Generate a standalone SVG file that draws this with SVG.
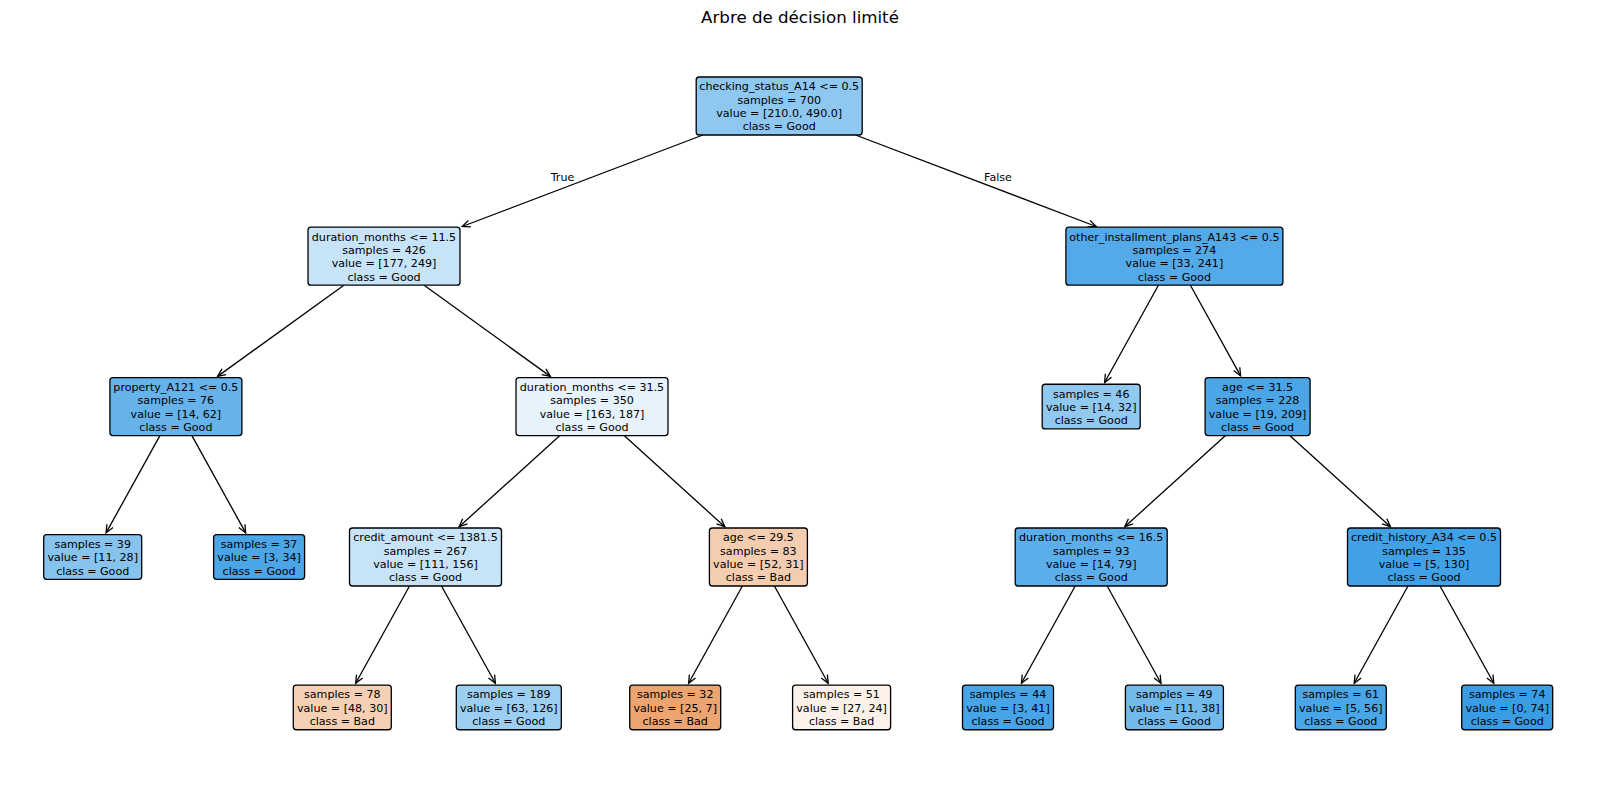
<svg xmlns="http://www.w3.org/2000/svg" width="1600" height="793" viewBox="0 0 1600 793">
<defs>
<marker id="ah" markerUnits="userSpaceOnUse" markerWidth="20" markerHeight="20" viewBox="-10 -10 20 20" refX="0" refY="0" orient="auto" overflow="visible">
<path d="M-8,-3.5 L0,0 L-8,3.5" fill="none" stroke="#000" stroke-width="1.3"/>
</marker>
</defs>
<style>
text{font-family:"DejaVu Sans","Liberation Sans",sans-serif;font-size:11.1px;fill:#000;text-anchor:middle}
.title{font-size:16.67px}
rect{stroke:#000;stroke-width:1.3;rx:3;ry:3}
.e line{stroke:#000;stroke-width:1.3;marker-end:url(#ah)}
</style>
<rect width="1600" height="793" fill="#fff" style="stroke:none"/>
<text class="title" x="800" y="22.5">Arbre de décision limité</text>
<g class="e" id="connectors">
<line x1="702.9" y1="135" x2="462.2" y2="226.5"/>
<line x1="855.5" y1="135" x2="1096.2" y2="226.5"/>
<line x1="343.9" y1="285.2" x2="217.6" y2="376.4"/>
<line x1="424.1" y1="285.2" x2="550.3" y2="376.4"/>
<line x1="1158.4" y1="285.2" x2="1104.6" y2="382.5"/>
<line x1="1190.4" y1="285.2" x2="1240.6" y2="375.9"/>
<line x1="159.9" y1="435.6" x2="106.1" y2="532.9"/>
<line x1="191.9" y1="435.6" x2="245.7" y2="532.9"/>
<line x1="559.9" y1="435.6" x2="459.1" y2="526.7"/>
<line x1="624.1" y1="435.6" x2="724.8" y2="526.7"/>
<line x1="1225.5" y1="435.6" x2="1124.8" y2="526.7"/>
<line x1="1289.7" y1="435.6" x2="1390.4" y2="526.7"/>
<line x1="409.5" y1="586" x2="355.7" y2="683.3"/>
<line x1="441.5" y1="586" x2="495.4" y2="683.3"/>
<line x1="742.4" y1="586" x2="688.6" y2="683.3"/>
<line x1="774.4" y1="586" x2="828.2" y2="683.3"/>
<line x1="1075.2" y1="586" x2="1021.4" y2="683.3"/>
<line x1="1107.2" y1="586" x2="1161" y2="683.3"/>
<line x1="1408" y1="586" x2="1354.2" y2="683.3"/>
<line x1="1440" y1="586" x2="1493.8" y2="683.3"/>
<text x="562.5" y="181">True</text>
<text x="998" y="181">False</text>
</g>
<g id="n0"><rect x="696.2" y="77" width="166" height="58" fill="#8ec7f0"/>
<text x="779.2" y="90.3">checking_status_A14 &lt;= 0.5</text><text x="779.2" y="103.6">samples = 700</text><text x="779.2" y="116.9">value = [210.0, 490.0]</text><text x="779.2" y="130.3">class = Good</text></g>
<g id="n1"><rect x="308" y="227.2" width="152" height="58" fill="#c6e3f7"/>
<text x="384" y="240.5">duration_months &lt;= 11.5</text><text x="384" y="253.8">samples = 426</text><text x="384" y="267.1">value = [177, 249]</text><text x="384" y="280.5">class = Good</text></g>
<g id="n2"><rect x="1065.9" y="227.2" width="217" height="58" fill="#54aae8"/>
<text x="1174.4" y="240.5">other_installment_plans_A143 &lt;= 0.5</text><text x="1174.4" y="253.8">samples = 274</text><text x="1174.4" y="267.1">value = [33, 241]</text><text x="1174.4" y="280.5">class = Good</text></g>
<g id="n3"><rect x="109.9" y="377.6" width="132" height="58" fill="#66b3eb"/>
<text x="175.9" y="390.9">property_A121 &lt;= 0.5</text><text x="175.9" y="404.2">samples = 76</text><text x="175.9" y="417.5">value = [14, 62]</text><text x="175.9" y="430.9">class = Good</text></g>
<g id="n4"><rect x="516" y="377.6" width="152" height="58" fill="#e6f2fc"/>
<text x="592" y="390.9">duration_months &lt;= 31.5</text><text x="592" y="404.2">samples = 350</text><text x="592" y="417.5">value = [163, 187]</text><text x="592" y="430.9">class = Good</text></g>
<g id="n5"><rect x="1042.2" y="384.25" width="98" height="44.7" fill="#90c8f0"/>
<text x="1091.2" y="397.6">samples = 46</text><text x="1091.2" y="410.9">value = [14, 32]</text><text x="1091.2" y="424.2">class = Good</text></g>
<g id="n6"><rect x="1205.1" y="377.6" width="105" height="58" fill="#4ba6e7"/>
<text x="1257.6" y="390.9">age &lt;= 31.5</text><text x="1257.6" y="404.2">samples = 228</text><text x="1257.6" y="417.5">value = [19, 209]</text><text x="1257.6" y="430.9">class = Good</text></g>
<g id="n7"><rect x="43.7" y="534.65" width="98" height="44.7" fill="#87c3ef"/>
<text x="92.7" y="548">samples = 39</text><text x="92.7" y="561.3">value = [11, 28]</text><text x="92.7" y="574.6">class = Good</text></g>
<g id="n8"><rect x="213.6" y="534.65" width="91" height="44.7" fill="#4aa6e7"/>
<text x="259.1" y="548">samples = 37</text><text x="259.1" y="561.3">value = [3, 34]</text><text x="259.1" y="574.6">class = Good</text></g>
<g id="n9"><rect x="349.5" y="528" width="152" height="58" fill="#c6e3f7"/>
<text x="425.5" y="541.3">credit_amount &lt;= 1381.5</text><text x="425.5" y="554.6">samples = 267</text><text x="425.5" y="567.9">value = [111, 156]</text><text x="425.5" y="581.3">class = Good</text></g>
<g id="n10"><rect x="709.4" y="528" width="98" height="58" fill="#f4ccaf"/>
<text x="758.4" y="541.3">age &lt;= 29.5</text><text x="758.4" y="554.6">samples = 83</text><text x="758.4" y="567.9">value = [52, 31]</text><text x="758.4" y="581.3">class = Bad</text></g>
<g id="n11"><rect x="1015.2" y="528" width="152" height="58" fill="#5caeea"/>
<text x="1091.2" y="541.3">duration_months &lt;= 16.5</text><text x="1091.2" y="554.6">samples = 93</text><text x="1091.2" y="567.9">value = [14, 79]</text><text x="1091.2" y="581.3">class = Good</text></g>
<g id="n12"><rect x="1347.5" y="528" width="153" height="58" fill="#41a1e6"/>
<text x="1424" y="541.3">credit_history_A34 &lt;= 0.5</text><text x="1424" y="554.6">samples = 135</text><text x="1424" y="567.9">value = [5, 130]</text><text x="1424" y="581.3">class = Good</text></g>
<g id="n13"><rect x="293.3" y="685.05" width="98" height="44.7" fill="#f5d0b5"/>
<text x="342.3" y="698.4">samples = 78</text><text x="342.3" y="711.7">value = [48, 30]</text><text x="342.3" y="725">class = Bad</text></g>
<g id="n14"><rect x="456.3" y="685.05" width="105" height="44.7" fill="#9ccef2"/>
<text x="508.8" y="698.4">samples = 189</text><text x="508.8" y="711.7">value = [63, 126]</text><text x="508.8" y="725">class = Good</text></g>
<g id="n15"><rect x="629.7" y="685.05" width="91" height="44.7" fill="#eca470"/>
<text x="675.2" y="698.4">samples = 32</text><text x="675.2" y="711.7">value = [25, 7]</text><text x="675.2" y="725">class = Bad</text></g>
<g id="n16"><rect x="792.6" y="685.05" width="98" height="44.7" fill="#fcf1e9"/>
<text x="841.6" y="698.4">samples = 51</text><text x="841.6" y="711.7">value = [27, 24]</text><text x="841.6" y="725">class = Bad</text></g>
<g id="n17"><rect x="962.5" y="685.05" width="91" height="44.7" fill="#47a4e7"/>
<text x="1008" y="698.4">samples = 44</text><text x="1008" y="711.7">value = [3, 41]</text><text x="1008" y="725">class = Good</text></g>
<g id="n18"><rect x="1125.4" y="685.05" width="98" height="44.7" fill="#72b9ec"/>
<text x="1174.4" y="698.4">samples = 49</text><text x="1174.4" y="711.7">value = [11, 38]</text><text x="1174.4" y="725">class = Good</text></g>
<g id="n19"><rect x="1295.3" y="685.05" width="91" height="44.7" fill="#4ba6e7"/>
<text x="1340.8" y="698.4">samples = 61</text><text x="1340.8" y="711.7">value = [5, 56]</text><text x="1340.8" y="725">class = Good</text></g>
<g id="n20"><rect x="1461.7" y="685.05" width="91" height="44.7" fill="#399de5"/>
<text x="1507.2" y="698.4">samples = 74</text><text x="1507.2" y="711.7">value = [0, 74]</text><text x="1507.2" y="725">class = Good</text></g>
</svg>
